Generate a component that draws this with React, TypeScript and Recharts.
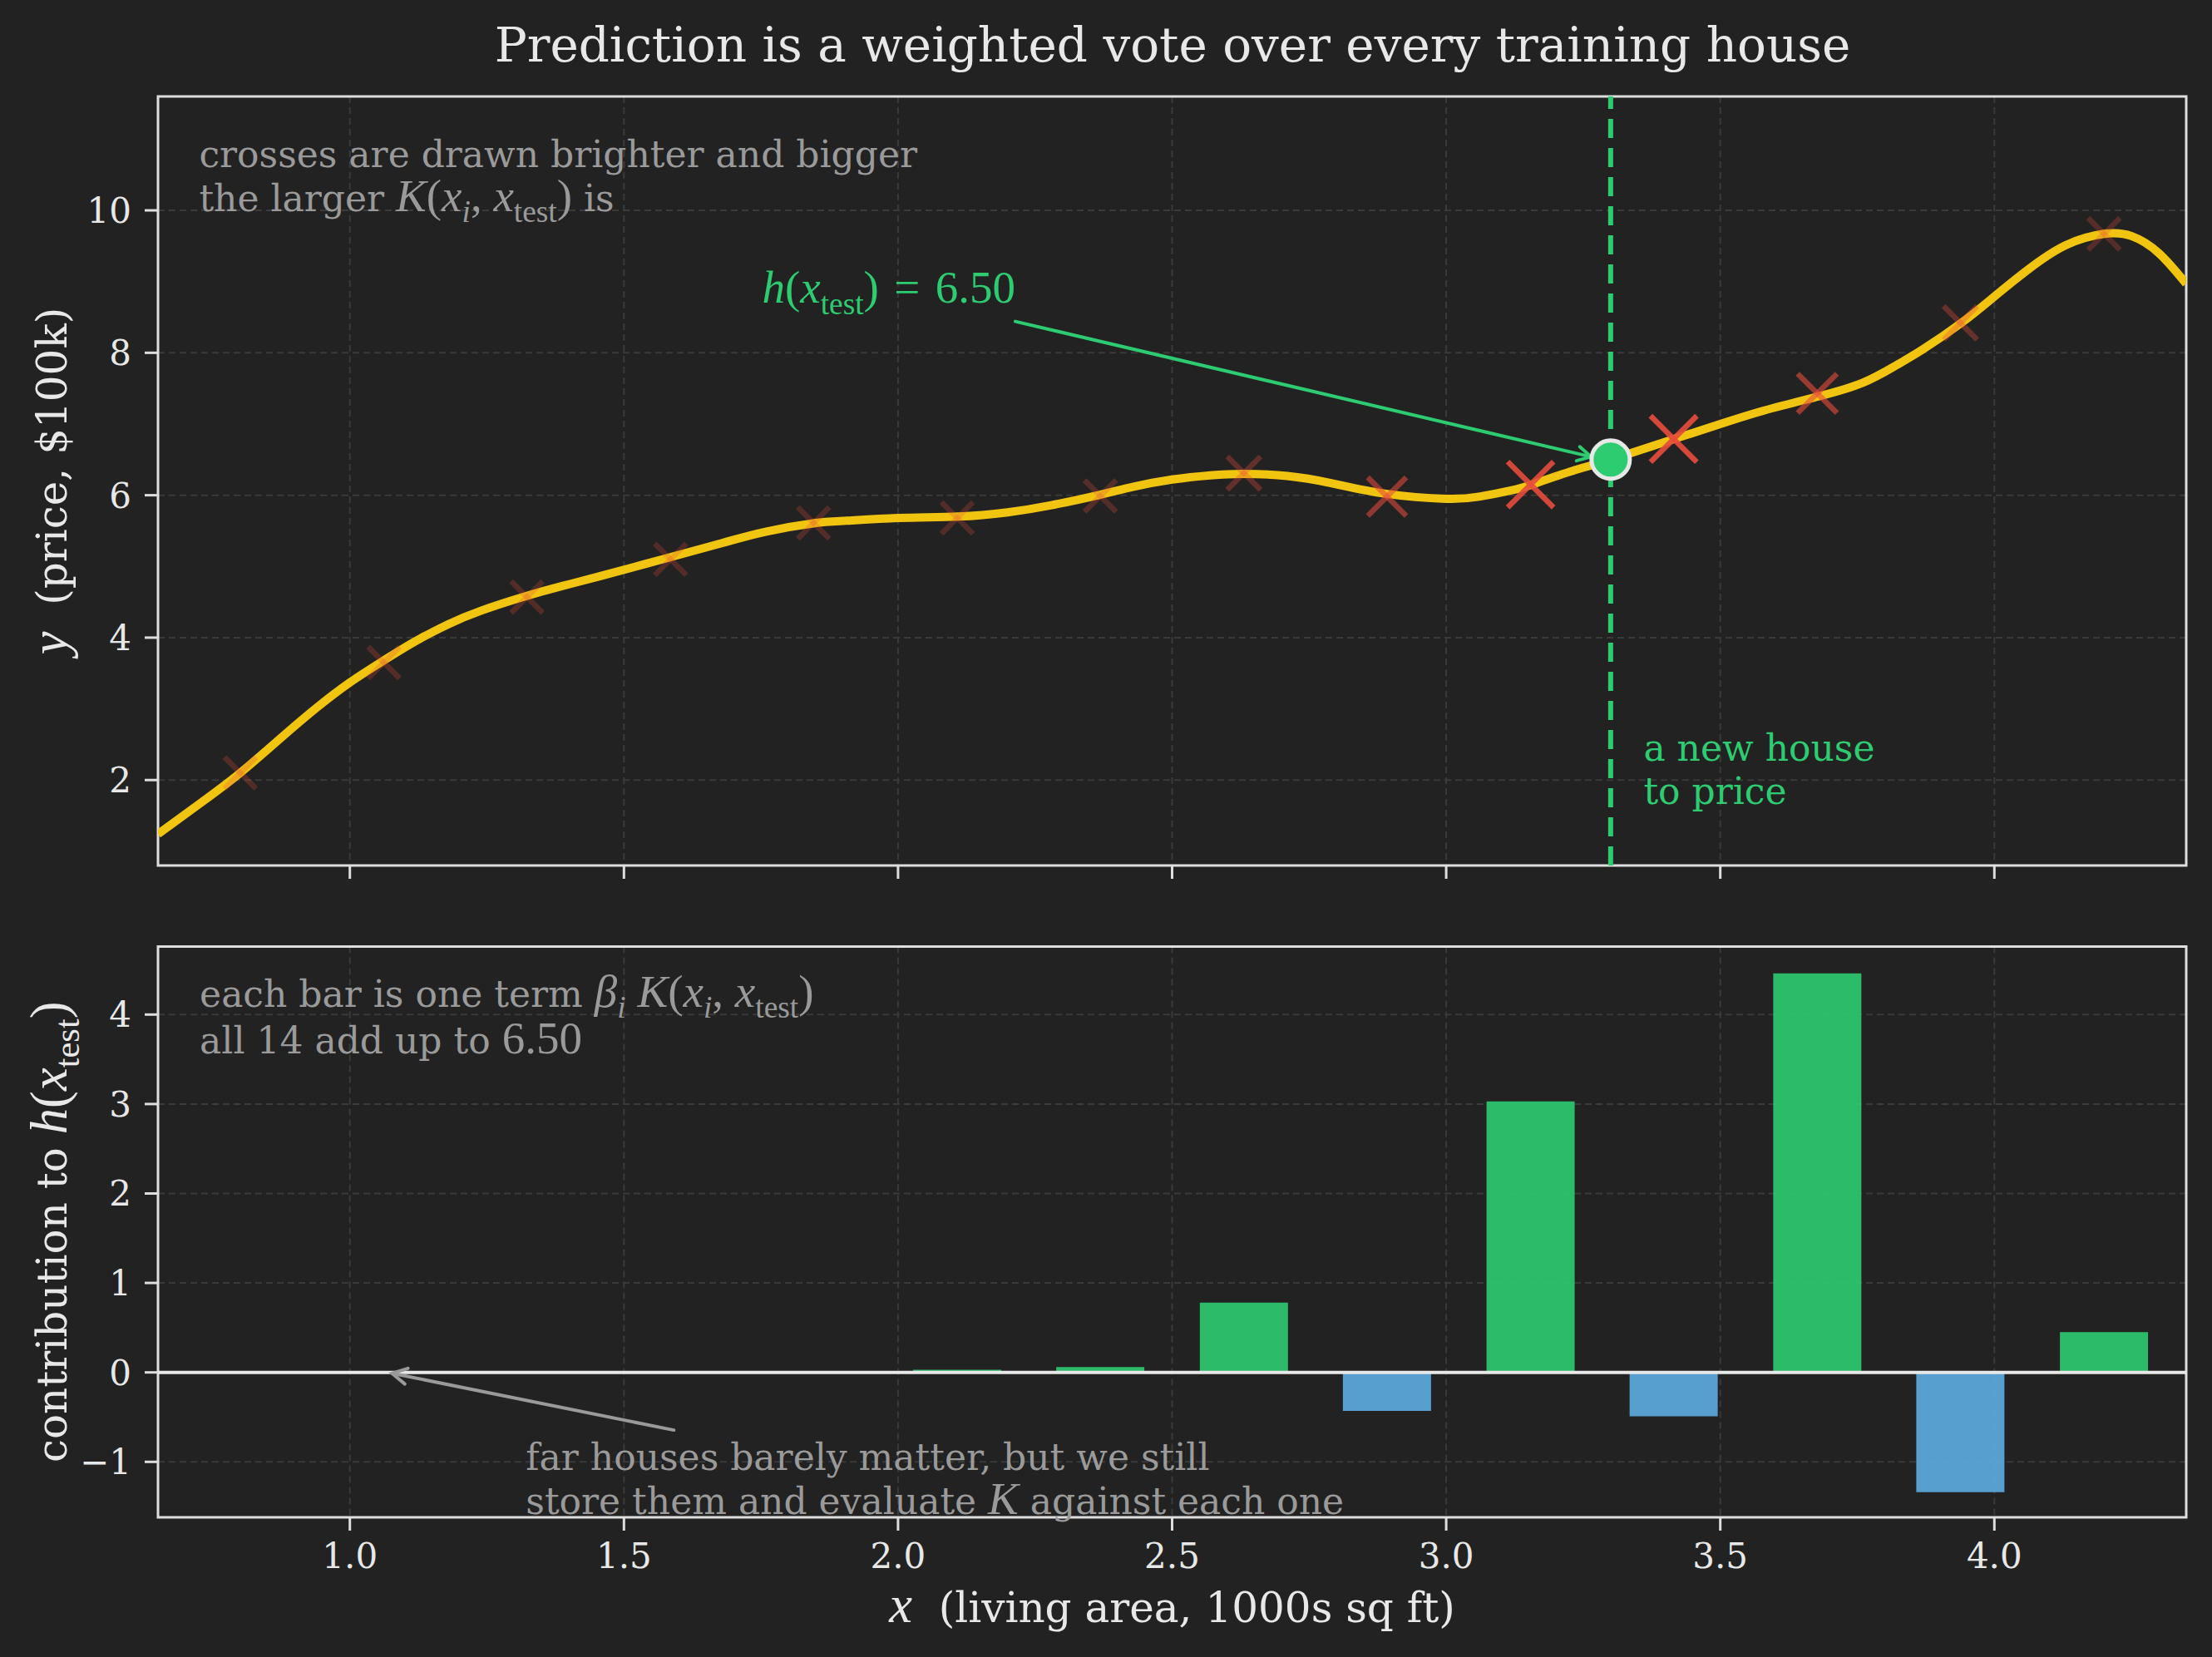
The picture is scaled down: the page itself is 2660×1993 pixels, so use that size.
import React from 'react';
import {
  ComposedChart,
  Line,
  Scatter,
  Bar,
  Cell,
  XAxis,
  YAxis,
  CartesianGrid,
  ReferenceLine,
  ReferenceDot,
  ReferenceArea,
  Label,
} from 'recharts';

// training houses (x in 1000s sq ft, price in $100k)
const trainX = [0.8, 1.062, 1.323, 1.585, 1.846, 2.108, 2.369, 2.631, 2.892, 3.154, 3.415, 3.677, 3.938, 4.2];
const trainPrice = [2.1, 3.65, 4.57, 5.1, 5.61, 5.68, 5.99, 6.31, 5.98, 6.15, 6.79, 7.43, 8.42, 9.67];
// K(x_i, x_test), read from how bright / big each cross is
const kernelWeight = [0.0, 0.0, 0.0, 0.0, 0.0, 0.001, 0.01, 0.11, 0.44, 0.9, 0.93, 0.49, 0.13, 0.02];
// beta_i * K(x_i, x_test)
const contribution = [0, 0, 0, 0, 0, 0.03, 0.06, 0.78, -0.43, 3.03, -0.49, 4.46, -1.34, 0.45];

// fitted curve h(x)
const curveX = [
  0.65, 0.73, 0.8, 0.88, 0.94, 1.0, 1.06, 1.12, 1.18, 1.24, 1.32, 1.39, 1.46, 1.58, 1.68, 1.76, 1.85, 1.9, 2.0,
  2.11, 2.2, 2.28, 2.37, 2.43, 2.5, 2.57, 2.63, 2.71, 2.79, 2.89, 3.0, 3.06, 3.12, 3.16, 3.23, 3.3, 3.42, 3.5,
  3.58, 3.68, 3.76, 3.82, 3.87, 3.94, 4.0, 4.06, 4.13, 4.2, 4.25, 4.3, 4.35,
];
const curveY = [
  1.24, 1.69, 2.1, 2.63, 3.02, 3.37, 3.67, 3.95, 4.19, 4.38, 4.58, 4.73, 4.87, 5.12, 5.33, 5.49, 5.61, 5.64, 5.68,
  5.7, 5.76, 5.86, 6.01, 6.12, 6.22, 6.28, 6.3, 6.27, 6.17, 6.02, 5.95, 5.98, 6.07, 6.16, 6.34, 6.5, 6.8, 7.0,
  7.19, 7.39, 7.58, 7.82, 8.05, 8.42, 8.79, 9.16, 9.51, 9.67, 9.64, 9.4, 8.97,
];

const xTest = 3.3;
const hTest = 6.5;

const xTicks = [1.0, 1.5, 2.0, 2.5, 3.0, 3.5, 4.0];
const priceTicks = [2, 4, 6, 8, 10];
const contribTicks = [-1, 0, 1, 2, 3, 4];

const X_DOMAIN: [number, number] = [0.65, 4.35];
const PRICE_DOMAIN: [number, number] = [0.8, 11.6];
const CONTRIB_DOMAIN: [number, number] = [-1.62, 4.76];

const FONT = '"DejaVu Serif", serif';
const MATH = '"Liberation Serif", "DejaVu Serif", serif';
const BG = '#222222';
const TEXT = '#e8e8e8';
const MUTED = '#9a9a9a';
const GREEN = '#2ecc71';
const RED = '#e74c3c';
const YELLOW = '#f1c40f';
const BLUE = '#5dade2';
const GRID = '#3a3a3a';
const SPINE = '#dedede';

const TICK_SIZE = 42;
const LABEL_SIZE = 50;
const NOTE_SIZE = 44;
const MATH_SCALE = 1.25;

const curveData = curveX.map((x, i) => ({ x, y: curveY[i] }));
const crossData = trainX.map((x, i) => ({ x, y: trainPrice[i], k: kernelWeight[i] }));
const barData = trainX.map((x, i) => ({ x, c: contribution[i] }));

type Seg = { t: string; it?: boolean; sub?: boolean; rm?: boolean };

const renderSegs = (segs: Seg[], size: number) => {
  let shifted = false;
  return segs.map((s, i) => {
    const shift = size * 0.3;
    const dy = s.sub && !shifted ? shift : !s.sub && shifted ? -shift : 0;
    shifted = !!s.sub;
    const isMath = s.it || s.rm || s.sub;
    return (
      <tspan
        key={i}
        dy={dy || undefined}
        fontStyle={s.it ? 'italic' : 'normal'}
        fontFamily={isMath ? MATH : FONT}
        fontSize={s.sub ? size * 0.85 : isMath ? size * MATH_SCALE : size}
      >
        {s.t}
      </tspan>
    );
  });
};

const kTest: Seg[] = [
  { t: 'K', it: true },
  { t: '(', rm: true },
  { t: 'x', it: true },
  { t: 'i', it: true, sub: true },
  { t: ', ', rm: true },
  { t: 'x', it: true },
  { t: 'test', sub: true },
  { t: ')', rm: true },
];

const hOfTest: Seg[] = [
  { t: 'h', it: true },
  { t: '(', rm: true },
  { t: 'x', it: true },
  { t: 'test', sub: true },
  { t: ')', rm: true },
];

const noteShape =
  (lines: Seg[][], color: string, size: number, lineHeight: number) =>
  (props: any) => (
    <g>
      {lines.map((segs, i) => (
        <text
          key={i}
          x={props.cx}
          y={props.cy + i * lineHeight}
          fill={color}
          fontSize={size}
          fontFamily={FONT}
          style={{ whiteSpace: 'pre' }}
        >
          {renderSegs(segs, size)}
        </text>
      ))}
    </g>
  );

const arrowShape = (color: string, width: number, head: number) => (props: any) => {
  const { x1, y1, x2, y2 } = props;
  const ang = Math.atan2(y2 - y1, x2 - x1);
  const a1 = ang + Math.PI - 0.5;
  const a2 = ang + Math.PI + 0.5;
  return (
    <g stroke={color} strokeWidth={width} strokeLinecap="round" fill="none">
      <line x1={x1} y1={y1} x2={x2} y2={y2} />
      <polyline
        points={`${x2 + head * Math.cos(a1)},${y2 + head * Math.sin(a1)} ${x2},${y2} ${x2 + head * Math.cos(a2)},${y2 + head * Math.sin(a2)}`}
      />
    </g>
  );
};

const renderCross = (props: any) => {
  const { cx, cy, payload } = props;
  const k = payload.k as number;
  const half = 19 + 9.5 * k;
  return (
    <g stroke={RED} strokeOpacity={0.25 + 0.72 * k} strokeWidth={6.5} strokeLinecap="butt">
      <line x1={cx - half} y1={cy - half} x2={cx + half} y2={cy + half} />
      <line x1={cx - half} y1={cy + half} x2={cx + half} y2={cy - half} />
    </g>
  );
};

const yAxisLabel = (segs: Seg[]) => (props: any) => {
  const vb = props.viewBox || {};
  const cy = vb.y + vb.height / 2;
  const x = 80;
  return (
    <text
      x={x}
      y={cy}
      transform={`rotate(-90, ${x}, ${cy})`}
      textAnchor="middle"
      fill={TEXT}
      fontSize={LABEL_SIZE}
      fontFamily={FONT}
      style={{ whiteSpace: 'pre' }}
    >
      {renderSegs(segs, LABEL_SIZE)}
    </text>
  );
};

const xAxisLabel = (props: any) => {
  const vb = props.viewBox || {};
  const cx = vb.x + vb.width / 2;
  return (
    <text
      x={cx}
      y={851}
      textAnchor="middle"
      fill={TEXT}
      fontSize={LABEL_SIZE}
      fontFamily={FONT}
      style={{ whiteSpace: 'pre' }}
    >
      {renderSegs([{ t: 'x', it: true }, { t: '  (living area, 1000s sq ft)' }], LABEL_SIZE)}
    </text>
  );
};

const tickStyle = { fill: TEXT, fontSize: TICK_SIZE, fontFamily: FONT };
const tickLineStyle = { stroke: SPINE, strokeWidth: 3 };
const fmtSigned = (v: number) => (v < 0 ? `\u2212${-v}` : `${v}`);

export default function App() {
  return (
    <div style={{ position: 'absolute', left: 0, top: 0, width: 2660, height: 1993, background: BG, overflow: 'hidden' }}>
      <svg width={2660} height={110} style={{ position: 'absolute', left: 0, top: 0 }}>
        <text x={1410} y={74} textAnchor="middle" fill={TEXT} fontSize={58} fontFamily={FONT}>
          Prediction is a weighted vote over every training house
        </text>
      </svg>

      <div style={{ position: 'absolute', left: 0, top: 0 }}>
        <ComposedChart width={2660} height={1100} margin={{ top: 116, right: 31, bottom: 29, left: 0 }}>
          <CartesianGrid stroke={GRID} strokeWidth={2} strokeDasharray="8 5" />
          <XAxis
            dataKey="x"
            type="number"
            domain={X_DOMAIN}
            ticks={xTicks}
            allowDataOverflow
            height={30}
            axisLine={false}
            tickLine={tickLineStyle}
            tickSize={16}
            tickFormatter={() => ''}
          />
          <YAxis
            dataKey="y"
            type="number"
            domain={PRICE_DOMAIN}
            ticks={priceTicks}
            allowDataOverflow
            width={190}
            axisLine={false}
            tickLine={tickLineStyle}
            tickSize={16}
            tickMargin={16}
            tick={tickStyle}
          >
            <Label content={yAxisLabel([{ t: 'y', it: true }, { t: '  (price, $100k)' }])} />
          </YAxis>
          <Line
            data={curveData}
            dataKey="y"
            type="natural"
            stroke={YELLOW}
            strokeWidth={10}
            dot={false}
            activeDot={false}
            isAnimationActive={false}
          />
          <Scatter data={crossData} dataKey="y" shape={renderCross} isAnimationActive={false} />
          <ReferenceLine x={xTest} stroke={GREEN} strokeWidth={6} strokeDasharray="23 12" />
          <ReferenceLine
            segment={[{ x: 2.214, y: 8.44 }, { x: 3.264, y: 6.54 }]}
            shape={arrowShape(GREEN, 4, 18)}
          />
          <ReferenceDot x={xTest} y={hTest} r={23} fill={GREEN} stroke="#e8e8e8" strokeWidth={5} />
          <ReferenceDot
            x={0.725}
            y={10.61}
            shape={noteShape(
              [[{ t: 'crosses are drawn brighter and bigger' }], [{ t: 'the larger ' }, ...kTest, { t: ' is' }]],
              MUTED,
              NOTE_SIZE,
              53
            )}
          />
          <ReferenceDot
            x={1.752}
            y={8.7}
            shape={noteShape([[...hOfTest, { t: '\u2004=\u20046.50', rm: true }]], GREEN, NOTE_SIZE, 52)}
          />
          <ReferenceDot
            x={3.36}
            y={2.27}
            shape={noteShape([[{ t: 'a new house' }], [{ t: 'to price' }]], GREEN, NOTE_SIZE, 52)}
          />
          <ReferenceArea
            x1={X_DOMAIN[0]}
            x2={X_DOMAIN[1]}
            y1={PRICE_DOMAIN[0]}
            y2={PRICE_DOMAIN[1]}
            fill="none"
            stroke={SPINE}
            strokeWidth={3}
          />
        </ComposedChart>
      </div>

      <div style={{ position: 'absolute', left: 0, top: 1100 }}>
        <ComposedChart
          width={2660}
          height={893}
          data={barData}
          margin={{ top: 38.5, right: 31, bottom: 68, left: 0 }}
        >
          <CartesianGrid stroke={GRID} strokeWidth={2} strokeDasharray="8 5" />
          <XAxis
            dataKey="x"
            type="number"
            domain={X_DOMAIN}
            ticks={xTicks}
            allowDataOverflow
            height={100}
            axisLine={false}
            tickLine={tickLineStyle}
            tickSize={16}
            tickMargin={15}
            tick={tickStyle}
            tickFormatter={(v: number) => v.toFixed(1)}
          >
            <Label content={xAxisLabel} />
          </XAxis>
          <YAxis
            type="number"
            domain={CONTRIB_DOMAIN}
            ticks={contribTicks}
            allowDataOverflow
            width={190}
            axisLine={false}
            tickLine={tickLineStyle}
            tickSize={16}
            tickMargin={16}
            tick={tickStyle}
            tickFormatter={fmtSigned}
          >
            <Label content={yAxisLabel([{ t: 'contribution to ' }, ...hOfTest])} />
          </YAxis>
          <Bar dataKey="c" barSize={106} isAnimationActive={false}>
            {barData.map((d, i) => (
              <Cell key={i} fill={d.c >= 0 ? GREEN : BLUE} fillOpacity={0.9} />
            ))}
          </Bar>
          <ReferenceLine y={0} stroke="#e8e8e8" strokeWidth={4} />
          <ReferenceLine
            segment={[{ x: 1.591, y: -0.645 }, { x: 1.077, y: -0.01 }]}
            shape={arrowShape(MUTED, 4, 20)}
          />
          <ReferenceDot
            x={0.726}
            y={4.09}
            shape={noteShape(
              [
                [{ t: 'each bar is one term ' }, { t: '\u03b2', it: true }, { t: 'i', it: true, sub: true }, { t: ' ' }, ...kTest],
                [{ t: 'all 14 add up to ' }, { t: '6.50', rm: true }],
              ],
              MUTED,
              NOTE_SIZE,
              56
            )}
          />
          <ReferenceDot
            x={1.321}
            y={-1.09}
            shape={noteShape(
              [
                [{ t: 'far houses barely matter, but we still' }],
                [{ t: 'store them and evaluate ' }, { t: 'K', it: true }, { t: ' against each one' }],
              ],
              MUTED,
              NOTE_SIZE,
              53
            )}
          />
          <ReferenceArea
            x1={X_DOMAIN[0]}
            x2={X_DOMAIN[1]}
            y1={CONTRIB_DOMAIN[0]}
            y2={CONTRIB_DOMAIN[1]}
            fill="none"
            stroke={SPINE}
            strokeWidth={3}
          />
        </ComposedChart>
      </div>
    </div>
  );
}
